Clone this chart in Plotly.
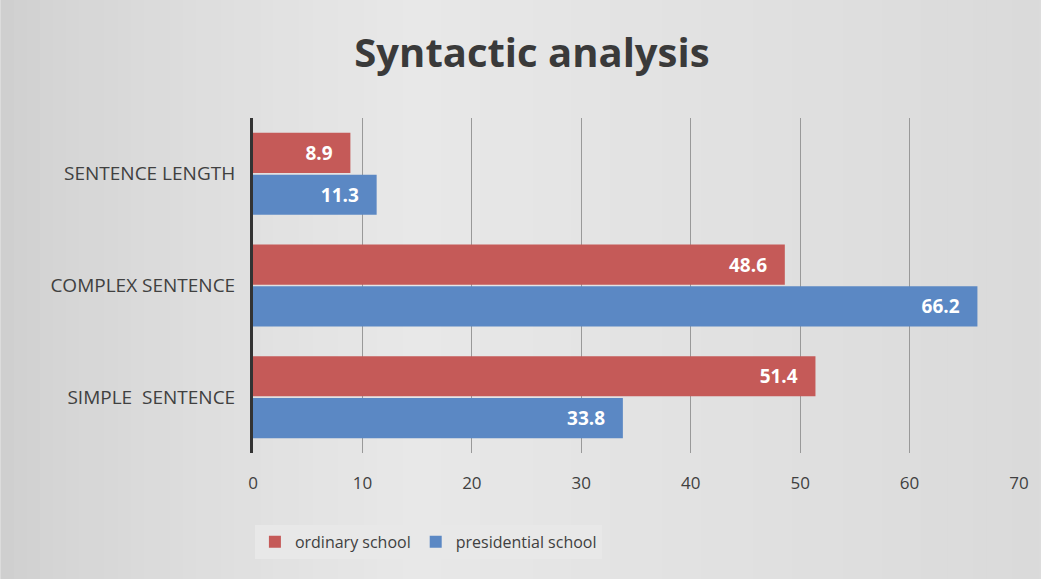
import plotly.graph_objects as go

categories = ["SIMPLE  SENTENCE", "COMPLEX SENTENCE", "SENTENCE LENGTH"]
ordinary = [51.4, 48.6, 8.9]
presidential = [33.8, 66.2, 11.3]
series_names = ["ordinary school", "presidential school"]
x_ticks = [0, 10, 20, 30, 40, 50, 60, 70]

RED = "#c55a58"
BLUE = "#5b88c4"
FONT = "'Open Sans', sans-serif"
PAD = "\u00a0\u00a0\u00a0"

fig = go.Figure()
fig.add_trace(go.Bar(
    y=categories, x=presidential, name=series_names[1], orientation="h",
    marker=dict(color=BLUE, line=dict(width=0)),
    text=[f"{v:.1f}{PAD}" for v in presidential], textposition="inside",
    insidetextanchor="end", textangle=0,
    textfont=dict(color="white", size=19, family=FONT, weight="bold"),
    legendrank=2,
))
fig.add_trace(go.Bar(
    y=categories, x=ordinary, name=series_names[0], orientation="h",
    marker=dict(color=RED, line=dict(width=0)),
    text=[f"{v:.1f}{PAD}" for v in ordinary], textposition="inside",
    insidetextanchor="end", textangle=0,
    textfont=dict(color="white", size=19, family=FONT, weight="bold"),
    legendrank=1,
))

# smooth background gradient (decoration), in plot-domain fractions
W, L, R = 769.0, 253.0, 19.0
x_start = -L / W
x_end = 1 + R / W
n = 80
shapes = []
for i in range(n):
    t = (i + 0.5) / n
    if t < 0.4:
        g = 206 + (232 - 206) * (t / 0.4) ** 0.7
    else:
        g = 232 - (232 - 218) * ((t - 0.4) / 0.6)
    g = int(round(g))
    x0 = x_start + (x_end - x_start) * i / n
    x1 = x_start + (x_end - x_start) * (i + 1) / n + 0.002
    shapes.append(dict(type="rect", xref="paper", yref="paper",
                       x0=x0, x1=x1, y0=-1, y1=2,
                       fillcolor=f"rgb({g},{g},{g})",
                       line=dict(width=0), layer="below"))

fig.update_layout(
    width=1041, height=579,
    margin=dict(l=253, r=19, t=118, b=126),
    paper_bgcolor="#dcdcdc", plot_bgcolor="rgba(0,0,0,0)",
    shapes=shapes,
    barmode="group", bargap=0.25, bargroupgap=0.04,
    title=dict(text="<b>Syntactic analysis</b>", x=0.511, xanchor="center",
               y=0.908, yanchor="middle",
               font=dict(size=40, color="#3a3a3a", family=FONT)),
    font=dict(family=FONT, color="#404040"),
    xaxis=dict(range=[0, 70], tickvals=x_ticks, showgrid=True,
               gridcolor="#999999", gridwidth=1, zeroline=False,
               showline=False, ticks="", ticklabelstandoff=18,
               tickfont=dict(size=17, color="#404040")),
    yaxis=dict(categoryorder="array", categoryarray=categories,
               range=[-0.5, 2.5], showline=True, linecolor="#333333",
               linewidth=3, showgrid=False, ticks="", ticklabelstandoff=11,
               tickfont=dict(size=19, color="#404040")),
    legend=dict(orientation="h", x=0.229, xanchor="center", y=-0.265,
                yanchor="middle", bgcolor="#e8e8e8",
                font=dict(size=16, color="#404040"),
                itemwidth=30, traceorder="normal", tracegroupgap=0),
    showlegend=True,
)

fig.write_html("out.html")
